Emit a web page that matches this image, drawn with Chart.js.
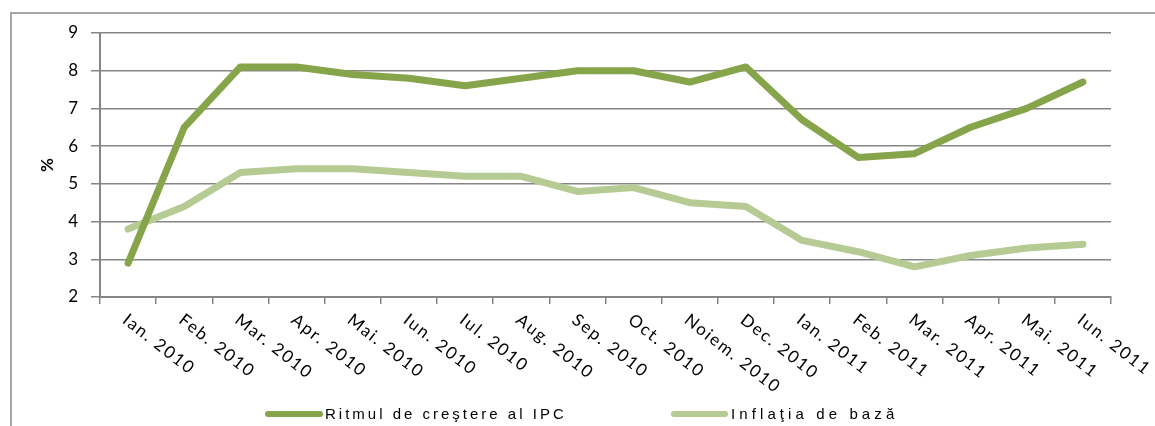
<!DOCTYPE html>
<html>
<head>
<meta charset="utf-8">
<script src="https://cdn.jsdelivr.net/npm/chart.js@4.4.1/dist/chart.umd.min.js"></script>
<style>
  html, body { margin: 0; padding: 0; background: #fff; }
  #wrap { position: relative; width: 1155px; height: 426px; overflow: hidden; }
  #frame { position: absolute; left: 10px; top: 12px; width: 1200px; height: 500px;
           border-left: 2px solid #a6a6a6; border-top: 2px solid #a6a6a6; }
  #chart { position: absolute; left: 0; top: 0; }
  .leg { position: absolute; top: 405px; font-family: "Liberation Sans", Arial, sans-serif;
         font-size: 15px; color: #000; white-space: nowrap; line-height: 18px; }
  .leg span.line { position: absolute; top: 6px; height: 6px; border-radius: 3px; }
</style>
</head>
<body>
<div id="wrap">
  <div id="frame"></div>
  <canvas id="chart" width="1155" height="426"></canvas>
  <div class="leg" style="left:265px;"><span class="line" style="left:0;width:58px;background:#86a44a"></span><span style="margin-left:60px;letter-spacing:3px">Ritmul de creştere al IPC</span></div>
  <div class="leg" style="left:671px;"><span class="line" style="left:0;width:57px;background:#b5cb93"></span><span style="margin-left:60px;letter-spacing:4.1px">Inflaţia de bază</span></div>
</div>
<script>
// --- Dati ---
const luni = ['Ian. 2010', 'Feb. 2010', 'Mar. 2010', 'Apr. 2010', 'Mai. 2010', 'Iun. 2010',
  'Iul. 2010', 'Aug. 2010', 'Sep. 2010', 'Oct. 2010', 'Noiem. 2010', 'Dec. 2010',
  'Ian. 2011', 'Feb. 2011', 'Mar. 2011', 'Apr. 2011', 'Mai. 2011', 'Iun. 2011'];
const ritmIPC = [2.9, 6.5, 8.1, 8.1, 7.9, 7.8, 7.6, 7.8, 8.0, 8.0, 7.7, 8.1, 6.7, 5.7, 5.8, 6.5, 7.0, 7.7];
const inflatieBaza = [3.8, 4.4, 5.3, 5.4, 5.4, 5.3, 5.2, 5.2, 4.8, 4.9, 4.5, 4.4, 3.5, 3.2, 2.8, 3.1, 3.3, 3.4];
const yMin = 2, yMax = 9;

const gridColor = '#868686';
const tickFont = { family: 'Lato, "Open Sans", sans-serif', size: 17 };

// etichete axa X inclinate (in jos spre dreapta)
const xLabelsPlugin = {
  id: 'xLabels',
  afterDraw(chart) {
    const c = chart.ctx;
    const xs = chart.scales.x;
    c.save();
    c.font = '17px Lato, "Open Sans", sans-serif';
    c.fillStyle = '#000';
    c.textAlign = 'left';
    c.textBaseline = 'top';
    c.letterSpacing = '1.8px';
    luni.forEach((lab, i) => {
      const x = xs.getPixelForTick(i);
      c.save();
      c.translate(x + 2, xs.top + 14);
      c.rotate(38 * Math.PI / 180);
      c.fillText(lab, 0, 0);
      c.restore();
    });
    c.restore();
  }
};

const ctx = document.getElementById('chart').getContext('2d');
new Chart(ctx, {
  type: 'line',
  data: {
    labels: luni,
    datasets: [
      {
        label: 'Ritmul de creştere al IPC',
        data: ritmIPC,
        borderColor: '#86a44a',
        backgroundColor: '#86a44a',
        borderWidth: 7,
        pointRadius: 0,
        tension: 0,
        borderCapStyle: 'round',
        borderJoinStyle: 'round'
      },
      {
        label: 'Inflaţia de bază',
        data: inflatieBaza,
        borderColor: '#b5cb93',
        backgroundColor: '#b5cb93',
        borderWidth: 7,
        pointRadius: 0,
        tension: 0,
        borderCapStyle: 'round',
        borderJoinStyle: 'round'
      }
    ]
  },
  options: {
    responsive: false,
    devicePixelRatio: 1,
    animation: false,
    layout: { padding: { left: 0, right: 44, top: 33, bottom: 0 } },
    plugins: { legend: { display: false }, tooltip: { enabled: false } },
    scales: {
      x: {
        offset: true,
        ticks: { display: false },
        grid: { offset: true, drawOnChartArea: false, drawTicks: true, tickLength: 7, color: gridColor, lineWidth: 1.5 },
        border: { display: true, color: gridColor, width: 2 },
        afterFit: s => { s.height = 129; }
      },
      y: {
        min: yMin,
        max: yMax,
        ticks: { stepSize: 1, color: '#000', font: tickFont, padding: 13 },
        grid: { color: gridColor, lineWidth: 1.5, tickLength: 9, drawTicks: true },
        border: { display: true, color: gridColor, width: 2 },
        title: { display: true, text: '%', color: '#000', font: { family: 'Lato, sans-serif', size: 17, weight: 'bold' }, padding: { top: 37, bottom: 0 } },
        afterFit: s => { s.width = 100; }
      }
    }
  },
  plugins: [xLabelsPlugin]
});
</script>
</body>
</html>
